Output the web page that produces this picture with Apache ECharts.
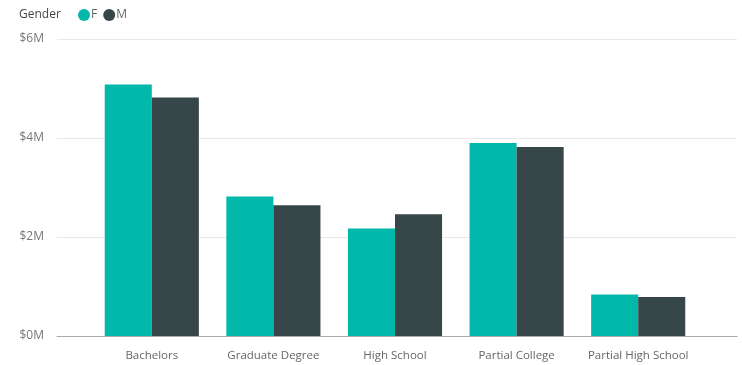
<!DOCTYPE html>
<html><head><meta charset="utf-8">
<script src="https://cdn.jsdelivr.net/npm/echarts@6/dist/echarts.min.js"></script>
<style>html,body{margin:0;padding:0;background:#fff}#c{width:742px;height:365px}</style>
</head><body><div id="c"></div>
<script>
const categories = ['Bachelors', 'Graduate Degree', 'High School', 'Partial College', 'Partial High School'];
const femaleValues = [5.08, 2.82, 2.17, 3.90, 0.84];
const maleValues = [4.82, 2.64, 2.46, 3.82, 0.79];
const yTicks = [0, 2, 4, 6];
const legendTitle = 'Gender';

const font = '"Segoe UI", "Open Sans", "Noto Sans", sans-serif';
const chart = echarts.init(document.getElementById('c'), null, {renderer: 'canvas'});
chart.setOption({
  animation: false,
  backgroundColor: '#fff',
  textStyle: {fontFamily: font},
  title: {text: legendTitle, left: 19, top: 9, padding: 0, textStyle: {fontSize: 12, fontWeight: 'normal', color: '#444', fontFamily: font}},
  legend: {
    left: 73, top: 4, icon: 'circle', itemWidth: 12, itemHeight: 12, itemGap: 6,
    textStyle: {fontSize: 12, color: '#666', fontFamily: font, padding: [0, 0, 0, -4]},
    data: ['F', 'M']
  },
  grid: [
    {left: 91, right: 43, top: 39, bottom: 29, containLabel: false},
    {left: 57, right: 5, top: 39, bottom: 29, containLabel: false}
  ],
  xAxis: [
    {type: 'category', gridIndex: 0, data: categories,
     axisLine: {show: false}, axisTick: {show: false},
     axisLabel: {color: '#666', fontSize: 11.5, margin: 14, interval: 0, fontFamily: font}},
    {type: 'value', gridIndex: 1, min: 0, max: 1,
     axisLine: {show: true, lineStyle: {color: '#aaa', width: 1}}, axisTick: {show: false},
     axisLabel: {show: false}, splitLine: {show: false}}
  ],
  yAxis: [
    {type: 'value', gridIndex: 0, min: 0, max: 6, interval: 2, show: false, splitLine: {show: false}},
    {type: 'value', gridIndex: 1, min: 0, max: 6, interval: 2,
     axisLine: {show: false}, axisTick: {show: false},
     axisLabel: {color: '#777', fontSize: 12, margin: 13, fontFamily: font, padding: [3, 0, 0, 0],
       formatter: v => yTicks.includes(v) ? '$' + v + 'M' : ''},
     splitLine: {show: true, lineStyle: {color: '#e8e8e8', width: 1}}}
  ],
  series: [
    {name: 'F', type: 'bar', xAxisIndex: 0, yAxisIndex: 0, data: femaleValues,
     itemStyle: {color: '#01B8AA'}, barGap: '0%', barCategoryGap: '22.6%'},
    {name: 'M', type: 'bar', xAxisIndex: 0, yAxisIndex: 0, data: maleValues,
     itemStyle: {color: '#374649'}, barGap: '0%', barCategoryGap: '22.6%'}
  ]
});
</script></body></html>
